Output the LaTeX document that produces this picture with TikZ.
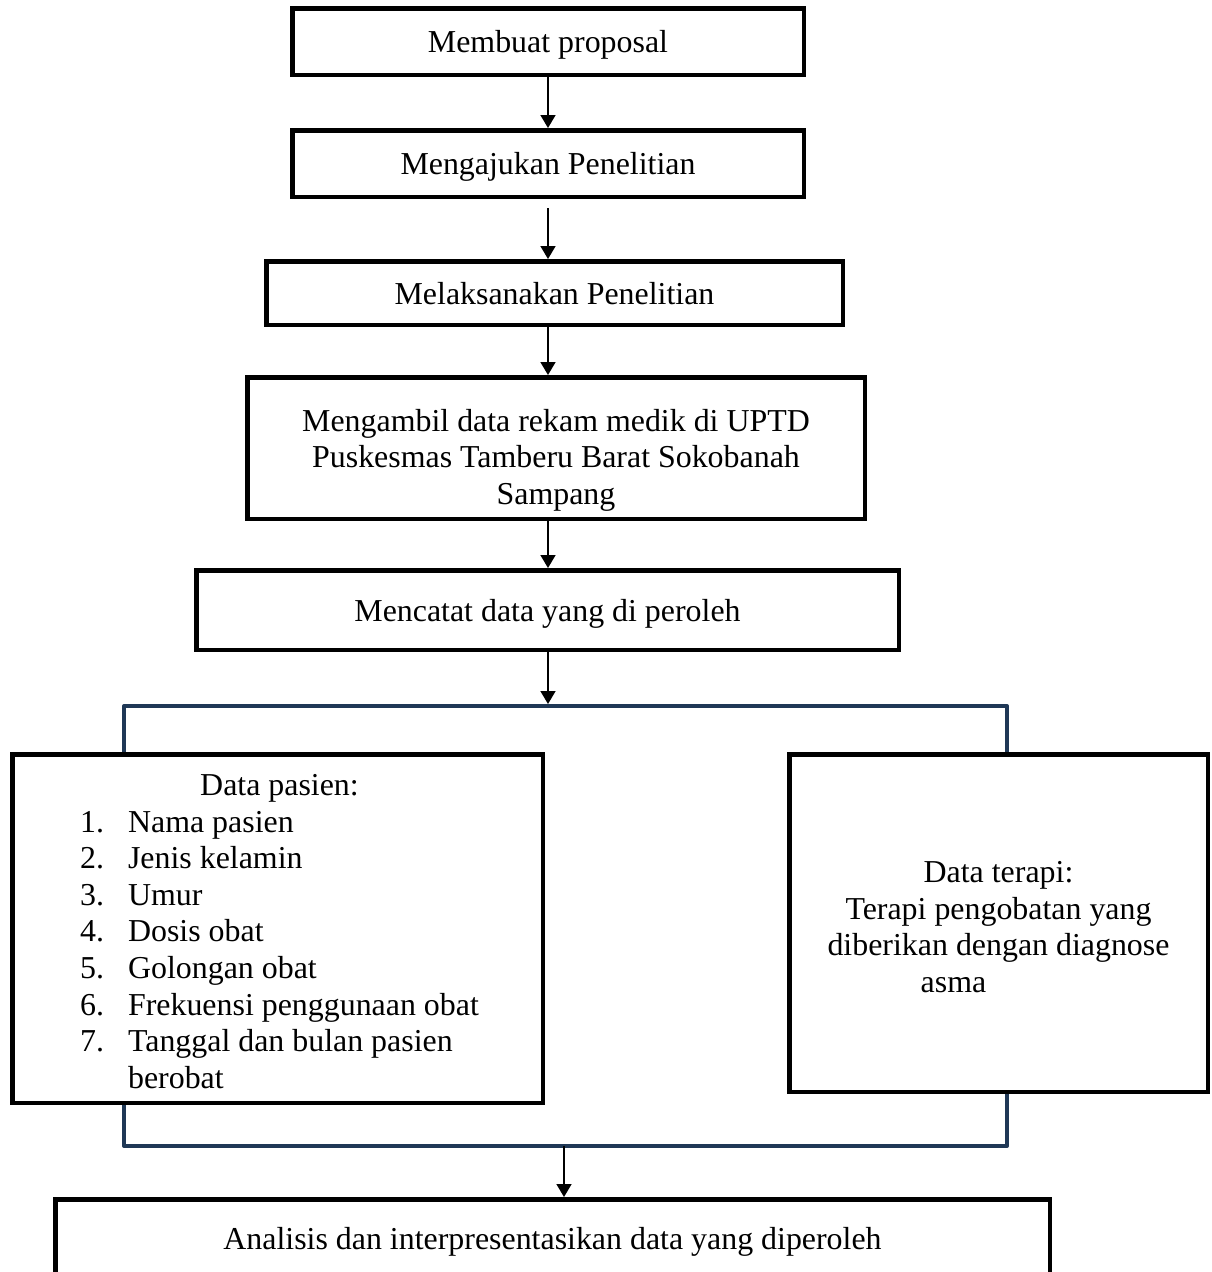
\documentclass[tikz,border=0pt]{standalone}
\usepackage{fontspec}
\setmainfont{Liberation Serif}
\usepackage{xcolor}
\usetikzlibrary{arrows.meta, positioning, calc}
\pgfdeclarelayer{background}
\pgfsetlayers{background,main}
\definecolor{navy}{RGB}{31,56,86}
\newcommand{\teks}{\fontsize{31.9}{36.6}\selectfont}
\tikzset{
  kotak/.style={draw=black, line width=4.5pt, inner sep=0pt, align=center, font=\teks},
  satu/.style={text height=29pt, text depth=7pt},
  panah/.style={-{Triangle[length=13pt,width=15pt]}, line width=1.6pt},
  kurung/.style={draw=navy, line width=4pt, line join=round},
}

\begin{document}
\begin{tikzpicture}[x=1pt, y=-1pt]
  \useasboundingbox (0,0) rectangle (1211,1272);

  % alur utama
  \node[kotak, satu, minimum width=511.5pt, minimum height=66.5pt] (proposal) at (548,41.5) {Membuat proposal};
  \node[kotak, satu, minimum width=511.5pt, minimum height=66.5pt] (ajukan) at (548,163.5) {Mengajukan Penelitian};
  \node[kotak, satu, minimum width=576.5pt, minimum height=63.5pt] (laksana) at (554.5,293) {Melaksanakan Penelitian};
  \node[kotak, minimum width=617.5pt, minimum height=141.5pt] (ambil) at (556,448) {};
  \node[font=\teks, align=center, inner sep=0pt] (ambiltxt) at ([yshift=-12pt]ambil.center)
    {Mengambil data rekam medik di UPTD\\Puskesmas Tamberu Barat Sokobanah\\Sampang};
  \node[kotak, satu, minimum width=702.5pt, minimum height=79.5pt] (catat) at (547.5,610) {Mencatat data yang di peroleh};

  % data pasien dan data terapi
  \node[kotak, minimum width=530.5pt, minimum height=348.5pt] (pasien) at (277.5,928.5) {};
  \node[font=\teks, inner sep=0pt] (pasientxt) at ([xshift=2pt,yshift=-6pt]pasien.center) {%
    \begin{tabular}{@{}p{48pt}@{}l@{}}
      \multicolumn{2}{c}{Data pasien:}\\
      1. & Nama pasien\\
      2. & Jenis kelamin\\
      3. & Umur\\
      4. & Dosis obat\\
      5. & Golongan obat\\
      6. & Frekuensi penggunaan obat\\
      7. & Tanggal dan bulan pasien\\
         & berobat
    \end{tabular}};
  \node[kotak, minimum width=418.5pt, minimum height=337.5pt] (terapi) at (998.5,923) {};
  \node[font=\teks, align=center, inner sep=0pt] (terapitxt) at ([yshift=-4pt]terapi.center)
    {Data terapi:\\Terapi pengobatan yang\\diberikan dengan diagnose\\asma\hspace*{90pt}};

  \node[kotak, satu, minimum width=994.5pt, minimum height=77.5pt] (analisis) at (552.5,1238)
    {Analisis dan interpresentasikan data yang diperoleh};

  % kurung penghubung
  \coordinate (atasKiri) at (124,706);
  \coordinate (atasKanan) at (1007,706);
  \coordinate (bawahKiri) at (124,1146);
  \coordinate (bawahKanan) at (1007,1146);
  \coordinate (cabang) at (548,706);
  \coordinate (gabung) at (564,1146);
  \begin{pgfonlayer}{background}
    \fill[white] (0,0) rectangle (1211,1272);
    \draw[kurung] (pasien.north -| atasKiri) -- (atasKiri) -- (atasKanan) -- (terapi.north -| atasKanan);
    \draw[kurung] (pasien.south -| bawahKiri) -- (bawahKiri) -- (bawahKanan) -- (terapi.south -| bawahKanan);
  \end{pgfonlayer}

  % panah
  \draw[panah] (proposal.south) -- (ajukan.north);
  \draw[panah] ([yshift=-9pt]ajukan.south) -- (laksana.north -| ajukan.south);
  \draw[panah] (laksana.south -| ajukan.south) -- (ambil.north -| ajukan.south);
  \draw[panah] (ambil.south -| ajukan.south) -- (catat.north -| ajukan.south);
  \draw[panah] (catat.south -| cabang) -- ([yshift=2pt]cabang);
  \draw[panah] (gabung) -- (analisis.north -| gabung);
\end{tikzpicture}
\end{document}
